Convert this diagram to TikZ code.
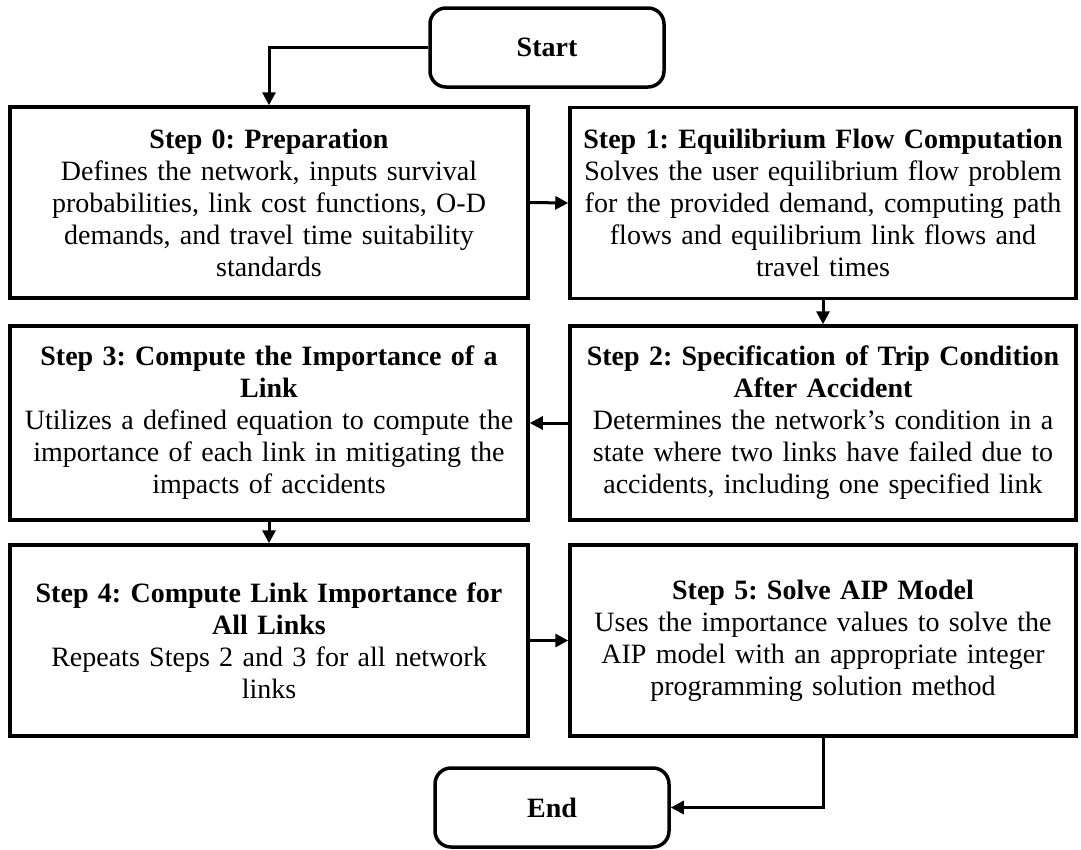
\documentclass[tikz,border=0pt]{standalone}
\usepackage{fontspec}
\setmainfont{Liberation Serif}
\usetikzlibrary{arrows.meta}
\frenchspacing

\tikzset{
	stepbox/.style={draw, line width=3.5pt, rectangle, align=center, inner sep=0pt,
		text width=500pt, font=\fontsize{28}{32}\selectfont},
	termbox/.style={draw, line width=3.5pt, rectangle, rounded corners=16pt, align=center,
		minimum width=234pt, minimum height=79pt, font=\fontsize{28}{32}\selectfont\bfseries},
	arr/.style={line width=3pt, -{Triangle[length=13pt,width=13pt]}}
}

\begin{document}
\begin{tikzpicture}[x=1pt,y=-1pt]
		\useasboundingbox (0,0) rectangle (1081,849);

		\node[termbox] (start) at (547,47.5) {Start};

		\node[stepbox, minimum width=518pt, minimum height=191pt] (s0) at (269,202.5)
			{\textbf{Step 0: Preparation}\\Defines the network, inputs survival\\probabilities, link cost functions, O-D\\demands, and travel time suitability\\standards};
		\node[stepbox, minimum width=506pt, minimum height=191pt] (s1) at (823,203)
			{\textbf{Step 1: Equilibrium Flow Computation}\\Solves the user equilibrium flow problem\\for the provided demand, computing path\\flows and equilibrium link flows and\\travel times};

		\node[stepbox, minimum width=506pt, minimum height=194pt] (s2) at (823,423)
			{\textbf{Step 2: Specification of Trip Condition}\\\textbf{After Accident}\\Determines the network's condition in a\\state where two links have failed due to\\accidents, including one specified link};
		\node[stepbox, minimum width=518pt, minimum height=194pt] (s3) at (269,423)
			{\textbf{Step 3: Compute the Importance of a}\\\textbf{Link}\\Utilizes a defined equation to compute the\\importance of each link in mitigating the\\impacts of accidents};

		\node[stepbox, minimum width=518pt, minimum height=191pt] (s4) at (269,640.5)
			{\textbf{Step 4: Compute Link Importance for}\\\textbf{All Links}\\Repeats Steps 2 and 3 for all network\\links};
		\node[stepbox, minimum width=506pt, minimum height=191pt] (s5) at (823,640.5)
			{\textbf{Step 5: Solve AIP Model}\\Uses the importance values to solve the\\AIP model with an appropriate integer\\programming solution method};

		\node[termbox] (end) at (552,807.5) {End};

		\draw[arr] (start.west) -| (s0.north);
		\draw[arr] (s0.east) -- (s1.west);
		\draw[arr] (s1.south) -- (s2.north);
		\draw[arr] (s2.west) -- (s3.east);
		\draw[arr] (s3.south) -- (s4.north);
		\draw[arr] (s4.east) -- (s5.west);
		\draw[arr] (s5.south) |- (end.east);

	\end{tikzpicture}
\end{document}
